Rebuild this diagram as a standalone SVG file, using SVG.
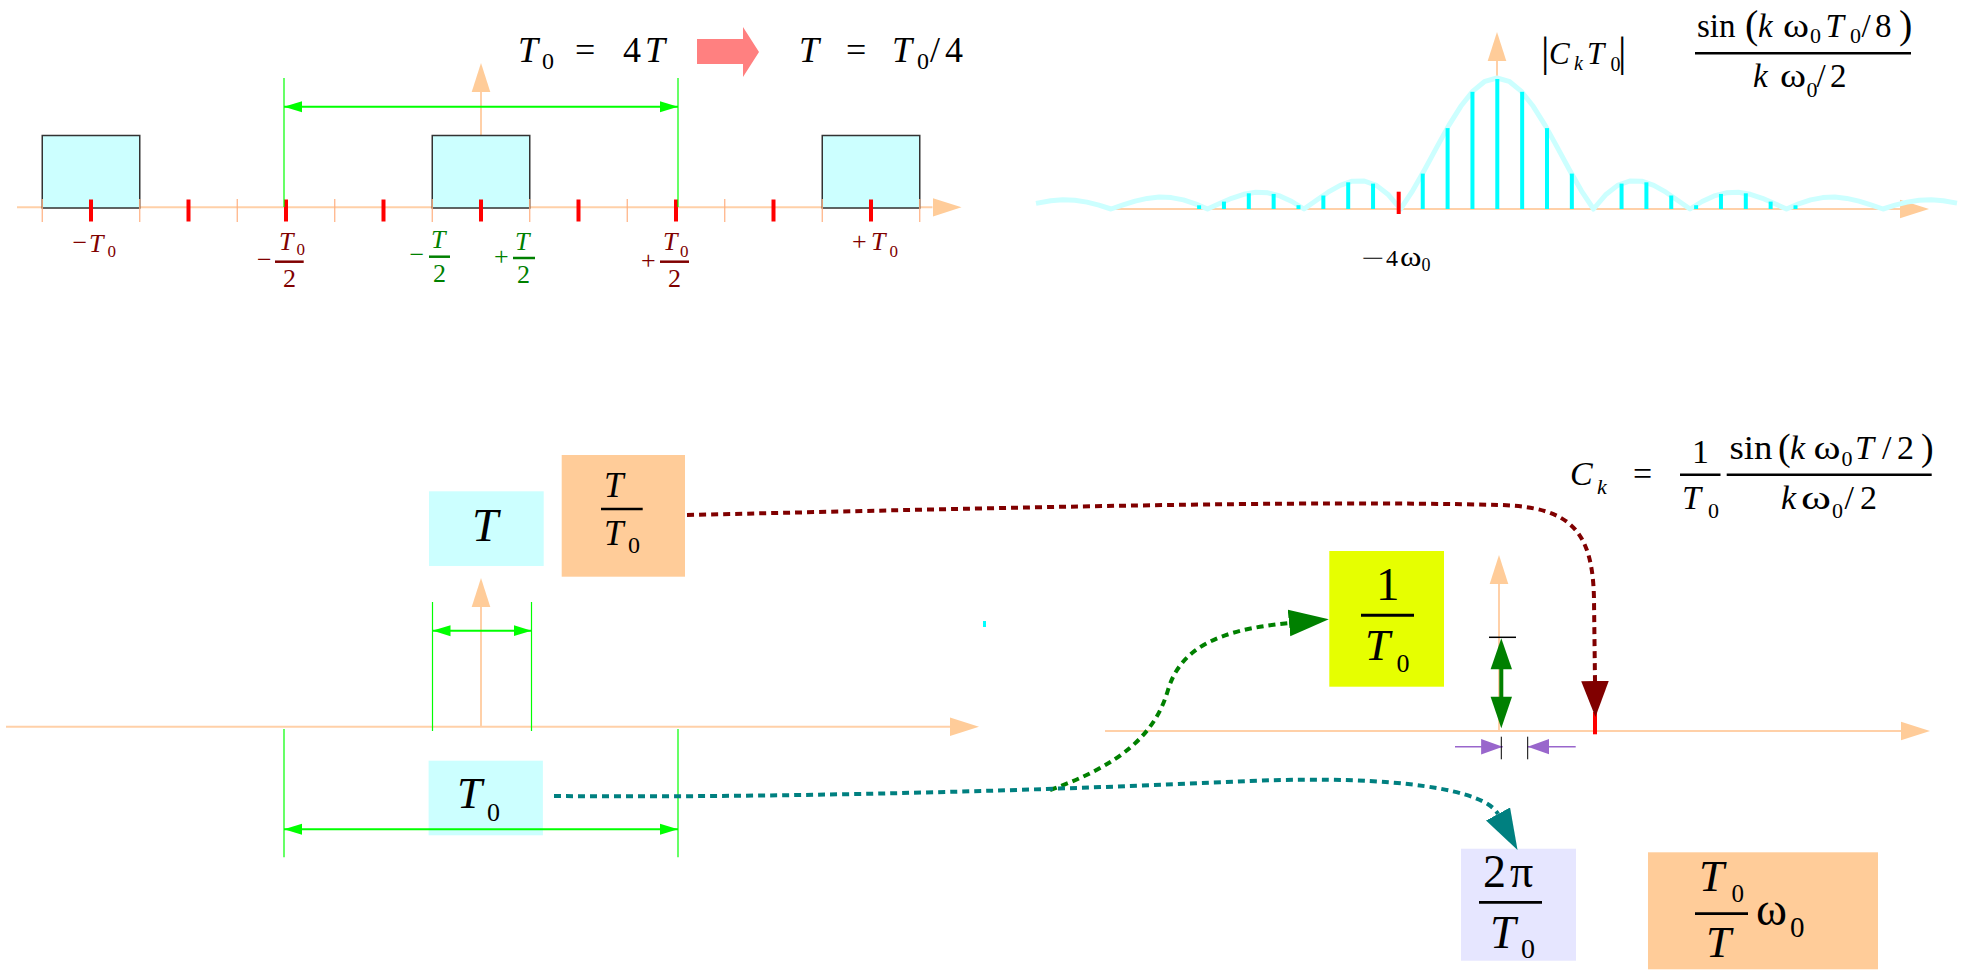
<svg xmlns="http://www.w3.org/2000/svg" width="1974" height="971" viewBox="0 0 1974 971">
<style>
text { font-family: "Liberation Serif", "Times New Roman", serif; }
.it { font-style: italic; }
.dr { fill: #800000; }
.gn { fill: #008000; }
.ax { stroke: #FFD0A8; stroke-width: 2; fill: none; marker-end: url(#aha); }
.axl { stroke: #FFD0A8; stroke-width: 2; fill: none; }
.mt { stroke: #FFB080; stroke-width: 1.2; }
.rt { stroke: #FF0000; stroke-width: 4; }
.gl { stroke: #00FF00; stroke-width: 1.2; }
.ga { stroke: #00FF00; stroke-width: 2; marker-start: url(#ahg); marker-end: url(#ahg); }
.pulse { fill: #CCFFFF; stroke: #333333; stroke-width: 1.5; }
.stem { stroke: #00FFFF; stroke-width: 4; }
.dot { fill: none; stroke-width: 4; stroke-dasharray: 7 5; }
.bar { stroke: #000000; stroke-width: 2.5; }
.drbar { stroke: #800000; stroke-width: 2.5; }
.gnbar { stroke: #008000; stroke-width: 2.5; }
.pa { stroke: #9966CC; stroke-width: 1.5; marker-end: url(#ahp); }
</style>
<defs>
<marker id="aha" markerUnits="userSpaceOnUse" viewBox="0 -10 30 20" markerWidth="30" markerHeight="20" refX="0" refY="0" orient="auto"><path d="M0,-9.3 L29,0 L0,9.3 z" fill="#FFCC99"/></marker>
<marker id="ahg" markerUnits="userSpaceOnUse" viewBox="0 -6 18 12" markerWidth="18" markerHeight="12" refX="18" refY="0" orient="auto-start-reverse"><path d="M0,-5.5 L18,0 L0,5.5 z" fill="#00FF00"/></marker>
<marker id="ahp" markerUnits="userSpaceOnUse" viewBox="0 -8 22 16" markerWidth="22" markerHeight="16" refX="21.6" refY="0" orient="auto"><path d="M0,-7.7 L21.6,0 L0,7.7 z" fill="#9966CC"/></marker>
<marker id="ahr" markerUnits="userSpaceOnUse" viewBox="0 -14 36 28" markerWidth="36" markerHeight="28" refX="0" refY="0" orient="auto"><path d="M0,-13.8 L36,0 L0,13.8 z" fill="#800000"/></marker>
<marker id="aht" markerUnits="userSpaceOnUse" viewBox="0 -14 41 28" markerWidth="41" markerHeight="28" refX="0" refY="0" orient="auto"><path d="M0,-13.7 L41,0 L0,13.7 z" fill="#008080"/></marker>
<marker id="ahd" markerUnits="userSpaceOnUse" viewBox="0 -14 40 28" markerWidth="40" markerHeight="28" refX="0" refY="0" orient="auto"><path d="M0,-13.4 L40,0 L0,13.4 z" fill="#008000"/></marker>
</defs>
<rect width="1974" height="971" fill="#FFFFFF"/>

<!-- ============ TOP LEFT: periodic pulse train ============ -->
<g id="plot-time-periodic">
  <line class="axl" x1="481" y1="207" x2="481" y2="92" marker-end="url(#aha)"/>
  <line class="ax" x1="17" y1="207.3" x2="932.5" y2="207.3"/>
  <rect class="pulse" x="42.25" y="135.5" width="97.5" height="72.5"/>
  <rect class="pulse" x="432.25" y="135.5" width="97.5" height="72.5"/>
  <rect class="pulse" x="822.25" y="135.5" width="97.5" height="72.5"/>
  <g class="mt">
    <line x1="42.25" y1="199" x2="42.25" y2="222"/>
    <line x1="139.75" y1="199" x2="139.75" y2="222"/>
    <line x1="237.25" y1="199" x2="237.25" y2="222"/>
    <line x1="334.75" y1="199" x2="334.75" y2="222"/>
    <line x1="432.25" y1="199" x2="432.25" y2="222"/>
    <line x1="529.75" y1="199" x2="529.75" y2="222"/>
    <line x1="627.25" y1="199" x2="627.25" y2="222"/>
    <line x1="724.75" y1="199" x2="724.75" y2="222"/>
    <line x1="822.25" y1="199" x2="822.25" y2="222"/>
    <line x1="919.75" y1="199" x2="919.75" y2="222"/>
  </g>
  <g class="rt">
    <line x1="91" y1="199.5" x2="91" y2="221.5"/>
    <line x1="188.5" y1="199.5" x2="188.5" y2="221.5"/>
    <line x1="286" y1="199.5" x2="286" y2="221.5"/>
    <line x1="383.5" y1="199.5" x2="383.5" y2="221.5"/>
    <line x1="481" y1="199.5" x2="481" y2="221.5"/>
    <line x1="578.5" y1="199.5" x2="578.5" y2="221.5"/>
    <line x1="676" y1="199.5" x2="676" y2="221.5"/>
    <line x1="773.5" y1="199.5" x2="773.5" y2="221.5"/>
    <line x1="871" y1="199.5" x2="871" y2="221.5"/>
  </g>
  <line class="gl" x1="284" y1="78" x2="284" y2="207"/>
  <line class="gl" x1="678" y1="78" x2="678" y2="207"/>
  <line class="ga" x1="284" y1="106.7" x2="678" y2="106.7"/>
  <!-- tick labels -->
  <g class="dr">
    <text x="72.5" y="251" font-size="26">−</text>
    <text class="it" x="89" y="251.7" font-size="26">T</text>
    <text x="107.5" y="257" font-size="17">0</text>

    <text x="257" y="268" font-size="26">−</text>
    <line class="drbar" x1="275" y1="261.7" x2="303.7" y2="261.7"/>
    <text class="it" x="279" y="250" font-size="26">T</text>
    <text x="296.5" y="255" font-size="17">0</text>
    <text x="283" y="286.7" font-size="26">2</text>

    <text x="641" y="268.5" font-size="26">+</text>
    <line class="drbar" x1="660" y1="261.7" x2="689" y2="261.7"/>
    <text class="it" x="663" y="250" font-size="26">T</text>
    <text x="680" y="256.7" font-size="17">0</text>
    <text x="668" y="286.7" font-size="26">2</text>

    <text x="852" y="250" font-size="26">+</text>
    <text class="it" x="871" y="250" font-size="26">T</text>
    <text x="889.5" y="256.7" font-size="17">0</text>
  </g>
  <g class="gn">
    <text x="409.5" y="263" font-size="26">−</text>
    <line class="gnbar" x1="429" y1="256.7" x2="450" y2="256.7"/>
    <text class="it" x="431" y="248.3" font-size="26">T</text>
    <text x="433" y="281.7" font-size="26">2</text>

    <text x="494" y="265" font-size="26">+</text>
    <line class="gnbar" x1="513" y1="258" x2="535" y2="258"/>
    <text class="it" x="515" y="250" font-size="26">T</text>
    <text x="517" y="283" font-size="26">2</text>
  </g>
</g>

<!-- ============ TOP: T0 = 4T  =>  T = T0/4 ============ -->
<g id="eq-period-relation">
  <text class="it" x="518" y="62" font-size="36">T</text>
  <text x="542" y="69" font-size="24">0</text>
  <text x="575" y="62" font-size="36">=</text>
  <text x="623" y="62" font-size="36">4</text>
  <text class="it" x="645" y="62" font-size="36">T</text>
  <polygon points="697,39 743,39 743,27 759,52 743,77 743,64 697,64" fill="#FF8080"/>
  <text class="it" x="799" y="62" font-size="36">T</text>
  <text x="846" y="62" font-size="36">=</text>
  <text class="it" x="892" y="62" font-size="36">T</text>
  <text x="917" y="69" font-size="24">0</text>
  <text x="930" y="62" font-size="36">/</text>
  <text x="945" y="62" font-size="36">4</text>
</g>

<!-- ============ TOP RIGHT: spectrum ============ -->
<g id="plot-spectrum">
  <line class="ax" x1="1110" y1="209" x2="1900" y2="209"/>
  <line class="axl" x1="1497" y1="209" x2="1497" y2="61" marker-end="url(#aha)"/>
  <polyline fill="none" stroke="#CCFFFF" stroke-width="5" stroke-linejoin="round" points="1036,203.4 1050.7,200.7 1062.7,199.7 1074.8,200.2 1086.9,202.1 1098.9,205.1 1111,209 1123.1,204.9 1135.1,201.1 1147.2,198.4 1159.2,197.1 1171.3,197.6 1183.4,199.9 1195.4,203.9 1207.5,209 1219.6,203.5 1231.6,198.3 1243.7,194.3 1255.7,192.3 1267.8,192.8 1279.9,195.9 1291.9,201.5 1304,209 1316.1,200.5 1328.1,192.2 1340.2,185.3 1352.2,181.2 1364.3,181 1376.4,185.4 1388.4,194.8 1400.5,209 1412.6,190.8 1424.6,169.7 1436.7,147.4 1448.7,125.6 1460.8,106.3 1472.9,91.1 1484.9,81.3 1497,78 1509.1,81.3 1521.1,91.1 1533.2,106.3 1545.3,125.6 1557.3,147.4 1569.4,169.7 1581.4,190.8 1593.5,209 1605.6,194.8 1617.6,185.4 1629.7,181 1641.8,181.2 1653.8,185.3 1665.9,192.2 1677.9,200.5 1690,209 1702.1,201.5 1714.1,195.9 1726.2,192.8 1738.3,192.3 1750.3,194.3 1762.4,198.3 1774.4,203.5 1786.5,209 1798.6,203.9 1810.6,199.9 1822.7,197.6 1834.8,197.1 1846.8,198.4 1858.9,201.1 1870.9,204.9 1883,209 1895.1,205.1 1907.1,202.1 1919.2,200.2 1931.3,199.7 1943.3,200.7 1957,203.1"/>
  <g class="stem">
    <line x1="1199.1" y1="209" x2="1199.1" y2="205.3"/>
    <line x1="1223.95" y1="209" x2="1223.95" y2="201.6"/>
    <line x1="1248.8" y1="209" x2="1248.8" y2="193.3"/>
    <line x1="1273.65" y1="209" x2="1273.65" y2="193.9"/>
    <line x1="1298.5" y1="209" x2="1298.5" y2="205.2"/>
    <line x1="1323.35" y1="209" x2="1323.35" y2="195.5"/>
    <line x1="1348.2" y1="209" x2="1348.2" y2="182.3"/>
    <line x1="1373.05" y1="209" x2="1373.05" y2="183.6"/>
    <line x1="1422.75" y1="209" x2="1422.75" y2="173.6"/>
    <line x1="1447.6" y1="209" x2="1447.6" y2="128.1"/>
    <line x1="1472.45" y1="209" x2="1472.45" y2="91.8"/>
    <line x1="1497.3" y1="209" x2="1497.3" y2="79"/>
    <line x1="1522.15" y1="209" x2="1522.15" y2="91.8"/>
    <line x1="1547" y1="209" x2="1547" y2="128.1"/>
    <line x1="1571.85" y1="209" x2="1571.85" y2="173.6"/>
    <line x1="1621.55" y1="209" x2="1621.55" y2="183.6"/>
    <line x1="1646.4" y1="209" x2="1646.4" y2="182.3"/>
    <line x1="1671.25" y1="209" x2="1671.25" y2="195.5"/>
    <line x1="1696.1" y1="209" x2="1696.1" y2="205.2"/>
    <line x1="1720.95" y1="209" x2="1720.95" y2="193.9"/>
    <line x1="1745.8" y1="209" x2="1745.8" y2="193.3"/>
    <line x1="1770.65" y1="209" x2="1770.65" y2="201.6"/>
    <line x1="1795.5" y1="209" x2="1795.5" y2="205.3"/>
  </g>
  <line class="rt" x1="1398.7" y1="191.7" x2="1398.7" y2="214"/>
  <text x="1361.5" y="265.7" font-size="24" textLength="23" lengthAdjust="spacingAndGlyphs">−</text>
  <text x="1386" y="265.7" font-size="24">4</text>
  <text x="1400" y="265.7" font-size="27" textLength="21.5" lengthAdjust="spacingAndGlyphs">ω</text>
  <text x="1421.5" y="270.7" font-size="18">0</text>
</g>

<g id="label-CkT0">
  <text x="1541" y="66" font-size="42">|</text>
  <text class="it" x="1549" y="64" font-size="31">C</text>
  <text class="it" x="1574" y="70" font-size="20">k</text>
  <text class="it" x="1587" y="64" font-size="31">T</text>
  <text x="1610.5" y="70.7" font-size="20">0</text>
  <text x="1618" y="66" font-size="42">|</text>
</g>

<g id="eq-sinc-T0-8">
  <text x="1697" y="37.3" font-size="33">sin</text>
  <text x="1745" y="37.5" font-size="40">(</text>
  <text class="it" x="1758" y="37.3" font-size="33">k</text>
  <text x="1783" y="37.3" font-size="33" textLength="26" lengthAdjust="spacingAndGlyphs">ω</text>
  <text x="1810" y="43.3" font-size="22">0</text>
  <text class="it" x="1825.5" y="37.3" font-size="33">T</text>
  <text x="1850" y="43.3" font-size="22">0</text>
  <text x="1861.5" y="37.3" font-size="33">/</text>
  <text x="1875" y="37.3" font-size="33">8</text>
  <text x="1899" y="37.5" font-size="40">)</text>
  <line class="bar" x1="1695" y1="53.3" x2="1911" y2="53.3"/>
  <text class="it" x="1753" y="87.3" font-size="33">k</text>
  <text x="1780" y="87.3" font-size="33" textLength="26" lengthAdjust="spacingAndGlyphs">ω</text>
  <text x="1806.5" y="96.7" font-size="22">0</text>
  <text x="1816.5" y="87.3" font-size="33">/</text>
  <text x="1830" y="87.3" font-size="33">2</text>
</g>

<!-- ============ BOTTOM LEFT: single pulse ============ -->
<g id="plot-time-single">
  <line class="ax" x1="6" y1="726.7" x2="950" y2="726.7"/>
  <line class="axl" x1="481" y1="726.7" x2="481" y2="607" marker-end="url(#aha)"/>
  <line class="gl" x1="432.5" y1="602" x2="432.5" y2="731"/>
  <line class="gl" x1="531.5" y1="602" x2="531.5" y2="731"/>
  <line class="ga" x1="432.5" y1="630.7" x2="531.5" y2="630.7"/>
  <line class="gl" x1="284" y1="729" x2="284" y2="857.3"/>
  <line class="gl" x1="678" y1="729" x2="678" y2="857.3"/>
  <rect id="node-T0-bg" x="428.6" y="760.7" width="114.3" height="74.6" fill="#CCFFFF"/>
  <line class="ga" x1="284" y1="829.3" x2="678" y2="829.3"/>
  <rect x="983" y="621" width="3" height="6" fill="#00FFFF"/>
</g>

<g id="node-T">
  <rect x="429" y="491.3" width="114.7" height="74.7" fill="#CCFFFF"/>
  <text class="it" x="472" y="540.7" font-size="47">T</text>
</g>

<g id="node-T-over-T0">
  <rect x="561.7" y="455" width="123.3" height="121.7" fill="#FFCC99"/>
  <text class="it" x="604" y="496.7" font-size="35">T</text>
  <line class="bar" x1="601" y1="509" x2="642.7" y2="509"/>
  <text class="it" x="604" y="545" font-size="35">T</text>
  <text x="628" y="553.3" font-size="24">0</text>
</g>

<g id="node-T0">
  <text class="it" x="457" y="808.3" font-size="45">T</text>
  <text x="487" y="821" font-size="26">0</text>
</g>

<!-- ============ BOTTOM RIGHT ============ -->
<g id="plot-freq-single">
  <line class="ax" x1="1105" y1="731" x2="1901" y2="731"/>
  <line class="axl" x1="1499" y1="731" x2="1499" y2="584" marker-end="url(#aha)"/>
  <line x1="1489" y1="637.3" x2="1516" y2="637.3" stroke="#000" stroke-width="1.5"/>
  <line x1="1501.3" y1="666" x2="1501.3" y2="700" stroke="#008000" stroke-width="4"/>
  <polygon points="1501.3,638.3 1512,669.3 1490.6,669.3" fill="#008000"/>
  <polygon points="1501.3,728.3 1512,696.7 1490.6,696.7" fill="#008000"/>
  <line class="pa" x1="1455" y1="746.7" x2="1502.7" y2="746.7"/>
  <line class="pa" x1="1575.7" y1="746.7" x2="1527.7" y2="746.7"/>
  <line x1="1501.3" y1="736.7" x2="1501.3" y2="759.3" stroke="#000" stroke-width="1"/>
  <line x1="1527.7" y1="736.7" x2="1527.7" y2="759.3" stroke="#000" stroke-width="1"/>
  <line class="rt" x1="1595" y1="712" x2="1595" y2="734.3"/>
</g>

<g id="eq-Ck">
  <text class="it" x="1570" y="485" font-size="34">C</text>
  <text class="it" x="1597" y="494" font-size="22">k</text>
  <text x="1633" y="485" font-size="34">=</text>
  <text x="1692" y="462.8" font-size="34">1</text>
  <line class="bar" x1="1680" y1="474.8" x2="1720.5" y2="474.8"/>
  <text class="it" x="1682" y="509.3" font-size="34">T</text>
  <text x="1708" y="518" font-size="22">0</text>
  <line class="bar" x1="1726.7" y1="474.8" x2="1931.7" y2="474.8"/>
  <text x="1729.5" y="459.3" font-size="34" textLength="43" lengthAdjust="spacingAndGlyphs">sin</text>
  <text x="1778" y="460" font-size="38">(</text>
  <text class="it" x="1790" y="459.3" font-size="34">k</text>
  <text x="1813.5" y="459.3" font-size="34" textLength="27" lengthAdjust="spacingAndGlyphs">ω</text>
  <text x="1841.5" y="466" font-size="22">0</text>
  <text class="it" x="1855" y="459.3" font-size="34">T</text>
  <text x="1882" y="459.3" font-size="34">/</text>
  <text x="1897" y="459.3" font-size="34">2</text>
  <text x="1921" y="460" font-size="38">)</text>
  <text class="it" x="1781" y="509.3" font-size="34">k</text>
  <text x="1801" y="509.3" font-size="34" textLength="30" lengthAdjust="spacingAndGlyphs">ω</text>
  <text x="1832" y="518" font-size="22">0</text>
  <text x="1844.5" y="509.3" font-size="34">/</text>
  <text x="1860" y="509.3" font-size="34">2</text>
</g>

<g id="node-1-over-T0">
  <rect x="1329.3" y="551" width="114.7" height="135.7" fill="#E6FF00"/>
  <text x="1376" y="600" font-size="47">1</text>
  <line x1="1361" y1="615.3" x2="1414" y2="615.3" stroke="#000" stroke-width="3"/>
  <text class="it" x="1365" y="660" font-size="45">T</text>
  <text x="1396.5" y="671.7" font-size="26">0</text>
</g>

<g id="node-2pi-over-T0">
  <rect x="1461" y="848.7" width="115" height="112" fill="#E6E6FF"/>
  <text x="1483" y="886.7" font-size="46">2</text>
  <text x="1510" y="886.7" font-size="46">π</text>
  <line x1="1479" y1="902.3" x2="1542" y2="902.3" stroke="#000" stroke-width="2.7"/>
  <text class="it" x="1490" y="948.3" font-size="46">T</text>
  <text x="1521" y="958.3" font-size="28">0</text>
</g>

<g id="node-T0-over-T-w0">
  <rect x="1648" y="852.3" width="230" height="117" fill="#FFCC99"/>
  <text class="it" x="1699" y="890.7" font-size="45">T</text>
  <text x="1731.5" y="901.7" font-size="25">0</text>
  <line x1="1695" y1="913.7" x2="1748" y2="913.7" stroke="#000" stroke-width="2.7"/>
  <text class="it" x="1706" y="957.3" font-size="45">T</text>
  <text x="1756" y="925" font-size="46" textLength="31" lengthAdjust="spacingAndGlyphs">ω</text>
  <text x="1790" y="936.7" font-size="29">0</text>
</g>

<!-- ============ CONNECTORS ============ -->
<g id="connectors">
  <path class="dot" stroke="#800000" d="M687,515 C1000,508 1300,500 1500,505 C1570,507 1593,530 1594,600 L1595,681" marker-end="url(#ahr)"/>
  <path class="dot" stroke="#008000" d="M1050,790 C1120,765 1155,735 1168,690 C1180,650 1215,630 1289,623" marker-end="url(#ahd)"/>
  <path class="dot" stroke="#008080" d="M554,796 C800,798 1050,790 1250,781 C1400,775 1485,790 1498,814" marker-end="url(#aht)"/>
</g>
</svg>
